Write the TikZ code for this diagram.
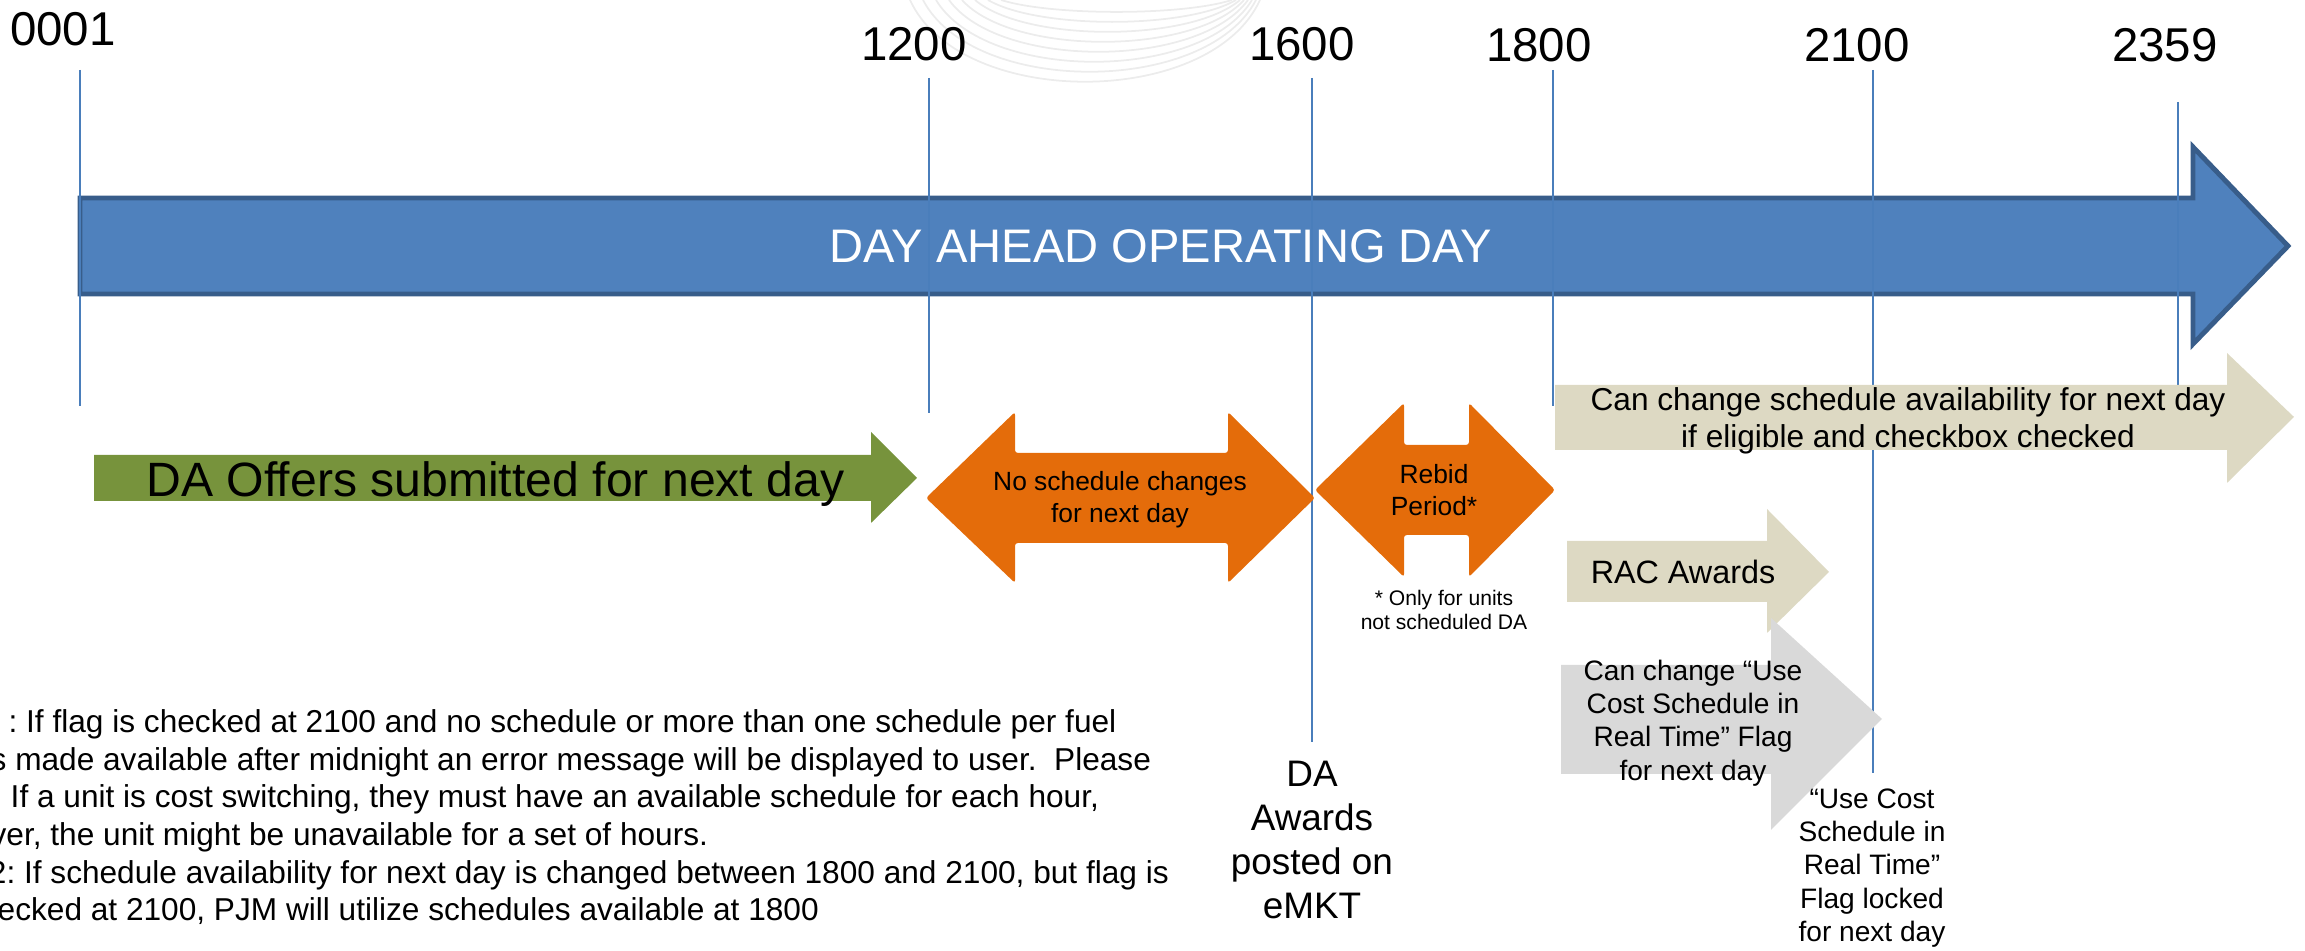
\documentclass[tikz,border=0pt]{standalone}
\usepackage{fontspec}
\setmainfont{Liberation Sans}
\usepackage{tikz}
\frenchspacing
\definecolor{daBlue}{RGB}{79,129,189}
\definecolor{daBlueEdge}{RGB}{56,93,138}
\definecolor{daTick}{RGB}{74,126,187}
\definecolor{daGreen}{RGB}{119,147,60}
\definecolor{daOrange}{RGB}{228,108,10}
\definecolor{daBeige}{RGB}{221,217,195}
\definecolor{daGray}{RGB}{217,217,217}
\definecolor{daMark}{RGB}{236,236,236}
\tikzset{
  tickline/.style={daTick, line width=0.4pt},
  ticklabel/.style={inner sep=0pt, font=\fontsize{13.5}{16}\selectfont},
  boxtext/.style={inner sep=0pt, align=center},
}

\begin{document}
\begin{tikzpicture}
  \useasboundingbox (0,0) rectangle (23.05,9.51);

  % faint swirl behind the hours
  \foreach \i in {0,...,7}
    \draw[daMark, line width=0.5pt] ({9.10+0.13*\i},9.51) .. controls ({9.60+0.13*\i},{8.42+0.133*\i}) and ({12.10-0.04*\i},{8.42+0.133*\i}) .. ({12.60-0.04*\i},9.51);

  % operating day bar
  \fill[daBlue, draw=daBlueEdge, line width=1.4pt] (0.80,7.53) -- (21.93,7.53) -- (21.93,8.04) -- (22.88,7.05) -- (21.93,6.07) -- (21.93,6.57) -- (0.80,6.57) -- cycle;

  % hour marks
  \coordinate (a0001) at (0.80,8.81);  \coordinate (b0001) at (0.80,5.45);
  \coordinate (a1200) at (9.29,8.73);  \coordinate (b1200) at (9.29,5.38);
  \coordinate (a1600) at (13.12,8.73); \coordinate (b1600) at (13.12,2.09);
  \coordinate (a1800) at (15.53,8.81); \coordinate (b1800) at (15.53,5.45);
  \coordinate (a2100) at (18.73,8.81); \coordinate (b2100) at (18.73,1.78);
  \coordinate (a2359) at (21.78,8.49); \coordinate (b2359) at (21.78,5.66);
  \draw[tickline] (a0001) -- (b0001);
  \draw[tickline] (a1200) -- (b1200);
  \draw[tickline] (a1600) -- (b1600);
  \draw[tickline] (a1800) -- (b1800);
  \draw[tickline] (a2100) -- (b2100);
  \draw[tickline] (a2359) -- (b2359);

  \node[text=white, inner sep=0pt, font=\fontsize{13.4}{16}\selectfont] (dabar) at (11.61,7.05) {DAY AHEAD OPERATING DAY};

  \node[ticklabel] (t0001) at (0.63,9.22) {0001};
  \node[ticklabel] (t1200) at (9.14,9.07) {1200};
  \node[ticklabel] (t1600) at (13.02,9.07) {1600};
  \node[ticklabel] (t1800) at (15.39,9.06) {1800};
  \node[ticklabel] (t2100) at (18.57,9.06) {2100};
  \node[ticklabel] (t2359) at (21.65,9.06) {2359};

  % offers
  \fill[daGreen] (0.94,4.96) -- (8.71,4.96) -- (8.71,5.19) -- (9.17,4.73) -- (8.71,4.28) -- (8.71,4.50) -- (0.94,4.50) -- cycle;
  \node[anchor=base, inner sep=0pt, font=\fontsize{13.7}{16}\selectfont] (offers) at (4.955,4.54) {DA Offers submitted for next day};

  % frozen and rebid windows
  \fill[daOrange, rounded corners=0.8pt] (9.26,4.53) -- (10.15,5.39) -- (10.15,4.98) -- (12.28,4.98) -- (12.28,5.39) -- (13.15,4.53) -- (12.28,3.68) -- (12.28,4.08) -- (10.15,4.08) -- (10.15,3.68) -- cycle;
  \node[boxtext, font=\fontsize{7.5}{9}\selectfont] (nochange) at (11.20,4.51) {No schedule changes\\for next day};

  \fill[daOrange, rounded corners=0.8pt] (13.15,4.61) -- (14.04,5.48) -- (14.04,5.06) -- (14.69,5.06) -- (14.69,5.48) -- (15.55,4.61) -- (14.69,3.74) -- (14.69,4.16) -- (14.04,4.16) -- (14.04,3.74) -- cycle;
  \node[boxtext, font=\fontsize{7.5}{9.1}\selectfont] (rebid) at (14.34,4.61) {Rebid\\Period*};
  \node[boxtext, font=\fontsize{6}{7.1}\selectfont] (rebidnote) at (14.44,3.41) {* Only for units\\not scheduled DA};

  % after 1800
  \fill[daBeige] (15.55,5.66) -- (22.27,5.66) -- (22.27,5.98) -- (22.94,5.34) -- (22.27,4.68) -- (22.27,5.01) -- (15.55,5.01) -- cycle;
  \node[boxtext, font=\fontsize{9}{10.5}\selectfont] (canchange) at (19.08,5.30) {Can change schedule availability for next day\\if eligible and checkbox checked};

  \fill[daBeige] (15.67,4.10) -- (17.67,4.10) -- (17.67,4.42) -- (18.29,3.79) -- (17.67,3.18) -- (17.67,3.49) -- (15.67,3.49) -- cycle;
  \node[inner sep=0pt, font=\fontsize{9.2}{11}\selectfont] (racaw) at (16.83,3.79) {RAC Awards};

  \fill[daGray] (15.61,2.86) -- (17.71,2.86) -- (17.71,3.33) -- (18.82,2.32) -- (17.71,1.21) -- (17.71,1.77) -- (15.61,1.77) -- cycle;
  \node[boxtext, font=\fontsize{8}{9.5}\selectfont] (flagchange) at (16.93,2.28) {Can change “Use\\Cost Schedule in\\Real Time” Flag\\for next day};

  % captions under the marks
  \node[boxtext, font=\fontsize{10.5}{12.6}\selectfont] (daawards) at (13.12,1.11) {DA\\Awards\\posted on\\eMKT};
  \node[boxtext, font=\fontsize{8}{9.5}\selectfont] (flaglock) at (18.72,0.83) {“Use Cost\\Schedule in\\Real Time”\\Flag locked\\for next day};

  % notes
  \node[anchor=north west, align=left, inner sep=0pt, font=\fontsize{9}{10.7}\selectfont] (notes) at (-0.03,2.42) {\hspace*{3.1pt}: If flag is checked at 2100 and no schedule or more than one schedule per fuel\\
    \hspace*{-2pt}s made available after midnight an error message will be displayed to user.~ Please\\
    \hspace*{3.7pt}If a unit is cost switching, they must have an available schedule for each hour,\\
    \hspace*{-2pt}ver, the unit might be unavailable for a set of hours.\\
    \hspace*{-2.5pt}2: If schedule availability for next day is changed between 1800 and 2100, but flag is\\
    ecked at 2100, PJM will utilize schedules available at 1800};
\end{tikzpicture}
\end{document}
